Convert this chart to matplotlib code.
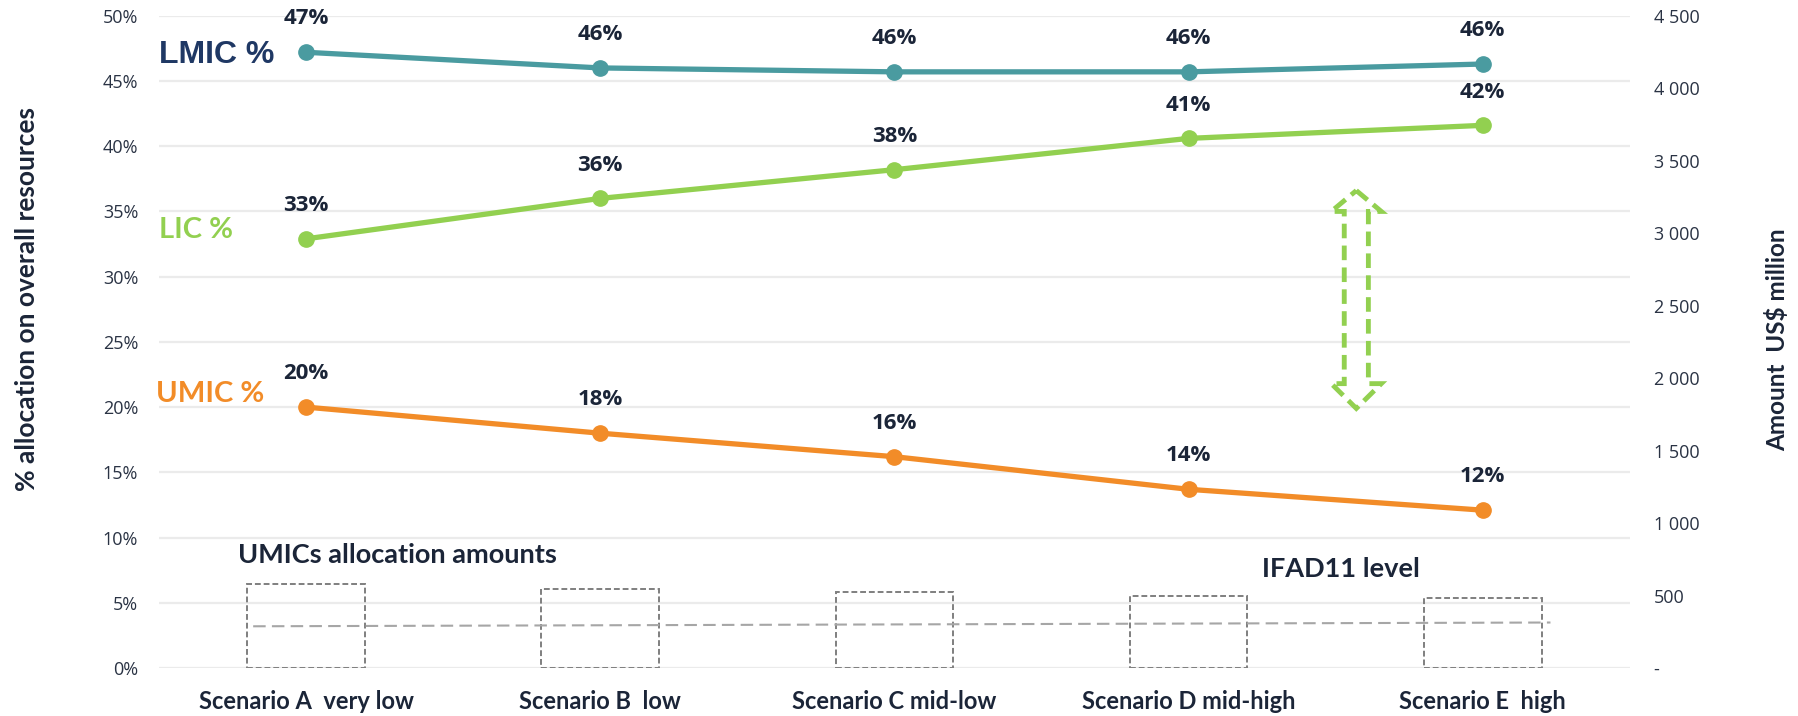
import matplotlib.pyplot as plt
from matplotlib.patches import Polygon
from matplotlib.ticker import FuncFormatter, MultipleLocator
import numpy as np

scenarios = ['Scenario A  very low', 'Scenario B  low', 'Scenario C mid-low',
             'Scenario D mid-high', 'Scenario E  high']
lmic_pct = [47.2, 46.0, 45.7, 45.7, 46.3]
lic_pct = [32.9, 36.0, 38.2, 40.6, 41.6]
umic_pct = [20.0, 18.0, 16.2, 13.7, 12.1]
umic_amount = [577, 547, 523, 498, 485]      # US$ million, right axis
ifad11_x = [-0.18, 4.23]
ifad11_level = [288, 314]

navy = '#1B2538'
teal = '#4A9BA0'
green = '#92D050'
orange = '#F28C28'

fig = plt.figure(figsize=(17.99, 7.16), dpi=100)
ax = fig.add_axes([0.0884, 0.067, 0.8176, 0.911])
ax2 = ax.twinx()

x = np.arange(len(scenarios))

# percentages on left axis
ax.set_ylim(0, 50)
ax.set_xlim(-0.5, 4.5)
ax.yaxis.set_major_locator(MultipleLocator(5))
ax.yaxis.set_major_formatter(FuncFormatter(lambda v, p: f'{v:.0f}%'))
ax.grid(axis='y', color='#EBEBEB', linewidth=1.6)
ax.set_axisbelow(True)
for s in ax.spines.values():
    s.set_visible(False)
for s in ax2.spines.values():
    s.set_visible(False)

for vals, col in [(lmic_pct, teal), (lic_pct, green), (umic_pct, orange)]:
    ax.plot(x, vals, color=col, lw=3.8, marker='o', markersize=11, zorder=3)
    for xi, v in zip(x, vals):
        ax.annotate(f'{v:.0f}%', (xi, v), xytext=(0, 24), textcoords='offset points',
                    ha='center', va='center', fontsize=16, fontweight='bold',
                    color=navy, family='Open Sans')

# amounts on right axis
ax2.set_ylim(0, 4500)
ax2.yaxis.set_major_locator(MultipleLocator(500))
ax2.yaxis.set_major_formatter(
    FuncFormatter(lambda v, p: '-' if v == 0 else f'{v:,.0f}'.replace(',', ' ')))
ax2.bar(x, umic_amount, width=0.4, fill=False, edgecolor='#7F7F7F',
        linewidth=1.4, linestyle=(0, (3, 1.5)))
ax2.plot(ifad11_x, ifad11_level, color='#A6A6A6', lw=1.5, linestyle=(0, (6, 3)))

ax.set_xticks(x)
ax.set_xticklabels(scenarios, fontsize=17, fontweight='bold', color=navy, family='Lato')
ax.tick_params(axis='x', length=0, pad=16)
ax.tick_params(axis='y', length=0, pad=15, labelsize=13, labelcolor='#2A3344')
ax2.tick_params(axis='y', length=0, pad=17, labelsize=13, labelcolor='#2A3344')
for lab in ax.get_yticklabels() + ax2.get_yticklabels():
    lab.set_family('Open Sans')

# series names
ax.text(0.0, 0.94, 'LMIC %', transform=ax.transAxes, fontsize=23, fontweight='bold',
        color='#1F3864', family='Liberation Sans', va='center', ha='left')
ax.text(0.0, 0.672, 'LIC %', transform=ax.transAxes, fontsize=21, fontweight='bold',
        color=green, family='Lato', va='center', ha='left')
ax.text(-0.002, 0.42, 'UMIC %', transform=ax.transAxes, fontsize=21, fontweight='bold',
        color=orange, family='Lato', va='center', ha='left')

ax.text(-0.233, 8.65, 'UMICs allocation amounts', fontsize=19.5, fontweight='bold',
        color=navy, family='Lato', va='center', ha='left')
ax.text(3.25, 7.6, 'IFAD11 level', fontsize=19.5, fontweight='bold',
        color=navy, family='Lato', va='center', ha='left')

# dashed double arrow
cx, sw, hw = 3.57, 0.041, 0.085
top, top_b, bot_b, bot = 36.6, 35.0, 21.8, 19.9
arrow = Polygon([(cx, top), (cx + hw, top_b), (cx + sw, top_b), (cx + sw, bot_b),
                 (cx + hw, bot_b), (cx, bot), (cx - hw, bot_b), (cx - sw, bot_b),
                 (cx - sw, top_b), (cx - hw, top_b)], closed=True, fill=False,
                edgecolor=green, lw=3.5, linestyle=(0, (3, 1.5)), zorder=4)
ax.add_patch(arrow)

fig.text(0.015, 0.582, '% allocation on overall resources', rotation=90, ha='center',
         va='center', fontsize=19, fontweight='bold', color=navy, family='Lato')
fig.text(0.988, 0.525, 'Amount  US$ million', rotation=90, ha='center',
         va='center', fontsize=17.5, fontweight='bold', color=navy, family='Lato')

fig.savefig('out.png', dpi=100)
